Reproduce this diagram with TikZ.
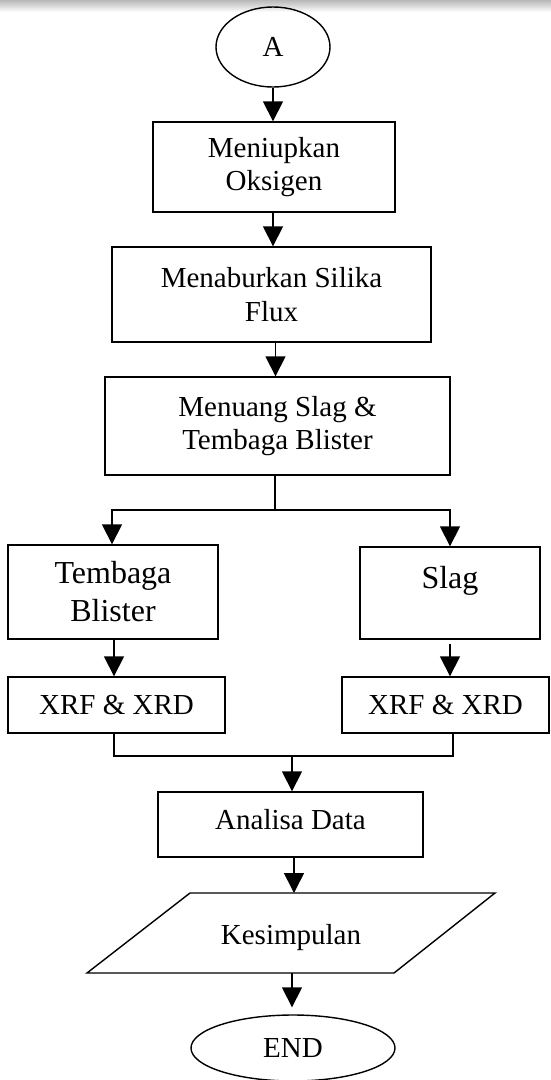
\documentclass[tikz,border=0pt]{standalone}
\usepackage{fontspec}
\setmainfont{Liberation Serif}
\usetikzlibrary{arrows.meta,shapes.geometric}
\begin{document}
\begin{tikzpicture}[x=1pt,y=-1pt,
  box/.style={draw, line width=1.4pt, rectangle, inner sep=0pt, align=center, font=\fontsize{29}{33.5}\selectfont},
  oval/.style={draw, line width=1.4pt, ellipse, inner sep=0pt, font=\fontsize{29}{33.5}\selectfont},
  txt/.style={inner sep=0pt, font=\fontsize{29}{33.5}\selectfont},
  arr/.style={line width=1.6pt, -{Triangle[length=20pt,width=20pt]}},
  ln/.style={line width=1.6pt},
  ]
\useasboundingbox (0,0) rectangle (551,1080);
\fill[white] (0,0) rectangle (551,1080);
\shade[top color=black!28, bottom color=white] (0,0) rectangle (551,12);

\node[oval, minimum width=114pt, minimum height=80pt] (A) at (273,47) {A};
\node[box, minimum width=242pt, minimum height=90pt] (b1) at (274,167) {Meniupkan\\Oksigen};
\node[box, minimum width=319pt, minimum height=95pt] (b2) at (271.5,294.5) {Menaburkan Silika\\Flux};
\node[box, minimum width=345pt, minimum height=98pt] (b3) at (277.5,426) {Menuang Slag \&\\Tembaga Blister};
\node[box, minimum width=210pt, minimum height=94pt, font=\fontsize{32}{38}\selectfont] (tb) at (113,592) {Tembaga\\Blister};
\node[box, minimum width=180pt, minimum height=92pt] (sl) at (450,593) {};
\node[txt, anchor=base, font=\fontsize{32}{38}\selectfont] (sltxt) at (450,588) {Slag};
\node[box, minimum width=217pt, minimum height=56pt] (x1) at (116.5,705) {XRF \& XRD};
\node[box, minimum width=207pt, minimum height=56pt] (x2) at (445.5,705) {XRF \& XRD};
\node[box, minimum width=265pt, minimum height=65pt] (ad) at (290.5,824.5) {};
\node[txt, anchor=base] (adtxt) at (290.5,829) {Analisa Data};

\coordinate (p1) at (190,893);
\coordinate (p2) at (495,893);
\coordinate (p3) at (394,973);
\coordinate (p4) at (87,973);
\draw[line width=1.4pt] (p1) -- (p2) -- (p3) -- (p4) -- cycle;
\node[txt, anchor=base] (kes) at (291,944) {Kesimpulan};

\node[oval, minimum width=204pt, minimum height=66pt] (end) at (293,1048) {END};

\coordinate (sp) at (275,510);
\coordinate (mg) at (292,756);
\coordinate (ktop) at (294,893);
\coordinate (kbot) at (292,973);

\draw[arr] (A.south) -- (A.south |- b1.north);
\draw[arr] ([xshift=-1pt]b1.south) -- ([xshift=-1pt]b1.south |- b2.north);
\draw[arr] ([xshift=4pt]b2.south) -- ([xshift=4pt]b2.south |- b3.north);
\draw[ln] (b3.south -| sp) -- (sp);
\draw[arr] (sp) -| ([xshift=-1pt]tb.north);
\draw[arr] (sp) -| (sl.north);
\draw[arr] ([xshift=1pt]tb.south) -- ([xshift=1pt]tb.south |- x1.north);
\draw[arr] ([yshift=-4pt]sl.south) -- (sl.south |- x2.north);
\draw[ln] ([xshift=-2.5pt]x1.south) |- (mg);
\draw[ln] ([xshift=7.5pt]x2.south) |- (mg);
\draw[arr] (mg) -- (mg |- ad.north);
\draw[arr] (ad.south -| ktop) -- (ktop);
\draw[arr, shorten >=7pt] (kbot) -- (kbot |- end.north);
\end{tikzpicture}
\end{document}
